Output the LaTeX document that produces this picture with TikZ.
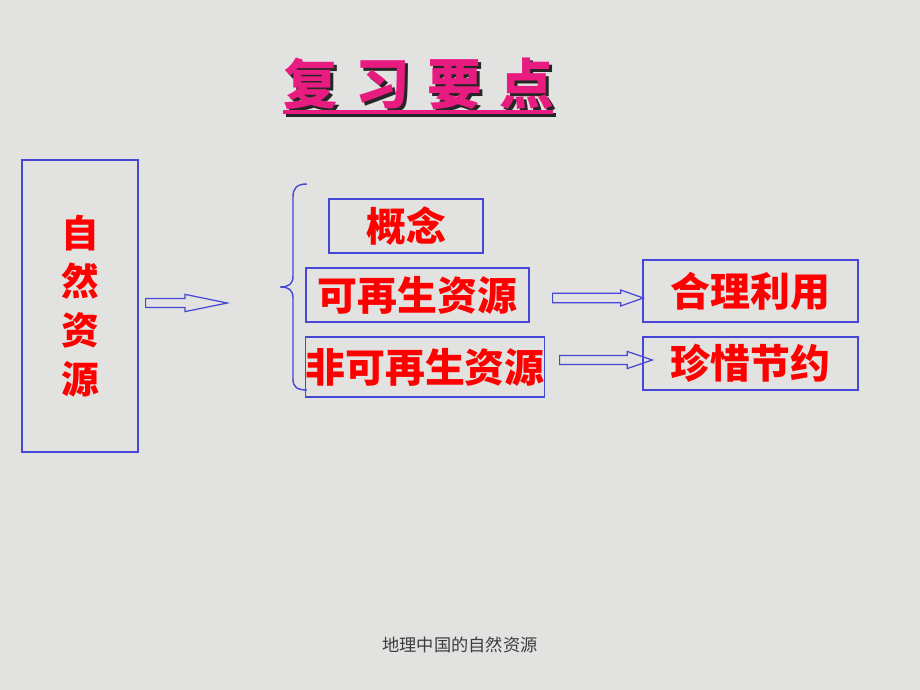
\documentclass[tikz,border=0pt]{standalone}
\usepackage{fontspec}
\setmainfont{Noto Sans CJK SC}
\usepackage{xcolor}
\usetikzlibrary{shapes.arrows}
\usetikzlibrary{positioning}

\definecolor{bgray}{RGB}{226,226,224}
\definecolor{boxblue}{RGB}{70,70,215}
\definecolor{titlepink}{RGB}{232,28,128}
\definecolor{footgray}{RGB}{60,60,60}

\begin{document}
\begin{tikzpicture}[x=0.02cm,y=-0.02cm,semithick]
	\tikzstyle{box}=[draw=boxblue, line width=0.8pt, text=red, inner sep=0pt, font=\fontsize{22.7}{27}\selectfont\bfseries]
	\tikzstyle{blockarrow}=[single arrow, draw=boxblue, line width=0.7pt, inner xsep=0pt, inner ysep=2.27pt, single arrow head indent=0pt, anchor=tail]
	\tikzstyle{titletext}=[inner sep=0pt, font=\fontsize{31}{36}\selectfont\bfseries]
	\path[fill=bgray, use as bounding box] (0,0) rectangle (920,690);

	% title with its shadow
	\node[titletext, text=black!85] at (421.5,86.5) {复\hspace{10pt}习\hspace{10pt}要\hspace{10pt}点};
	\node[titletext, text=titlepink] (title) at (419,84) {复\hspace{10pt}习\hspace{10pt}要\hspace{10pt}点};
	\draw[line width=2pt, black!85] (286,115) -- (556,115);
	\draw[line width=2pt, titlepink] (283,112) -- (553,112);

	% boxes
	\node[box, minimum width=2.32cm, minimum height=5.84cm, align=center,
		font=\fontsize{21.5}{27.8}\selectfont\bfseries] (natres) at (80,306) {自\\然\\资\\源};
	\node[box, minimum width=3.08cm, minimum height=1.08cm] (concept) at (406,226) {概念};
	\node[box, minimum width=4.46cm, minimum height=1.08cm] (renew) at (417.5,295) {可再生资源};
	\node[box, minimum width=4.76cm, minimum height=1.2cm] (nonrenew) at (425,367) {非可再生资源};
	\node[box, minimum width=4.3cm, minimum height=1.24cm] (useit) at (750.5,291) {合理利用};
	\node[box, minimum width=4.3cm, minimum height=1.06cm] (saveit) at (750.5,363.5) {珍惜节约};

	% block arrows
	\node[blockarrow, minimum height=46.5pt, single arrow head extend=2.27pt,
		single arrow tip angle=23] (arr1) at (145,303) {};
	\node[blockarrow, minimum height=51.6pt, inner ysep=2.4pt, single arrow head extend=1.8pt,
		single arrow tip angle=39] (arr2) at (552,298) {};
	\node[blockarrow, minimum height=52.7pt, single arrow head extend=2.27pt,
		single arrow tip angle=38] (arr3) at (559,360) {};

	% brace
	\coordinate (tip) at (280,287);
	\draw[boxblue, line width=0.8pt] (307,184) .. controls (297,184) and (293,188) .. (293,197)
		-- (293,276) .. controls (293,284) and (289,287) .. (tip)
		.. controls (289,287) and (293,290) .. (293,298)
		-- (293,379) .. controls (293,387) and (297,390) .. (307,390);

	\node[text=footgray, font=\fontsize{9.8}{12}\selectfont] (footer) at (460,645) {地理中国的自然资源};
\end{tikzpicture}
\end{document}
